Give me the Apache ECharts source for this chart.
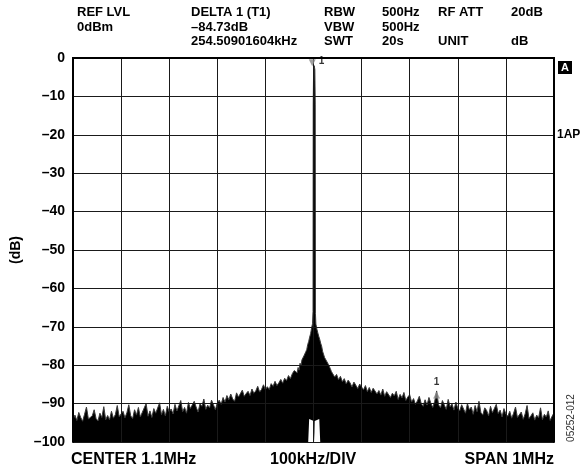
<!DOCTYPE html>
<html>
<head>
<meta charset="utf-8">
<script src="https://cdn.jsdelivr.net/npm/echarts@6/dist/echarts.min.js"></script>
<style>
  html, body { margin: 0; padding: 0; background: #fff; }
  #chart { width: 587px; height: 473px; }
</style>
</head>
<body>
<div id="chart"></div>
<script>
// Spectrum analyser screen: 1.1 MHz carrier, 1 MHz span, max-hold trace in dB.

const spanStartKHz = 600;
const spanStopKHz = 1600;
const divKHz = 100;
const bandStepKHz = 4;

// Trace from 600 kHz to 1060 kHz, one value every 4 kHz
const lowBandStartKHz = 600;
const lowBandDb = [
  -94.2, -93.0, -94.4, -92.3, -93.6, -94.6, -92.8, -90.9, -94.0, -94.3, -93.2, -91.6, -93.9,
  -94.5, -92.5, -93.6, -90.8, -94.2, -93.1, -94.2, -92.0, -93.8, -92.9, -90.5, -93.4, -92.7,
  -92.0, -93.7, -92.4, -90.3, -93.2, -93.9, -91.6, -93.0, -91.0, -93.5, -92.3, -92.7, -90.0,
  -93.3, -91.9, -93.6, -91.3, -92.5, -92.1, -89.8, -92.9, -91.5, -93.2, -90.7, -92.2,
  -91.4, -92.7, -90.2, -91.9, -90.6, -89.2, -92.1, -91.0, -92.5, -89.7, -91.3, -91.8, -89.4,
  -90.9, -92.2, -90.1, -90.7, -88.8, -91.5, -90.4, -91.1, -89.1, -90.3, -91.6, -89.8,
  -89.1, -90.2, -88.4, -89.6, -87.9, -89.0, -87.5, -88.8, -89.4, -87.2, -88.3, -87.8, -86.5,
  -88.1, -87.4, -86.8, -87.9, -86.2, -87.3, -86.7, -85.5, -87.0, -86.3, -85.1, -86.4,
  -85.6, -86.3, -84.8, -85.5, -84.2, -85.3, -84.6, -83.7, -84.7, -83.4, -84.0, -82.7, -83.5,
  -82.2, -81.4
];

// Carrier and its close-in skirt
const carrierFreqKHz = [
  1066, 1068, 1070, 1072, 1074, 1076, 1078, 1080, 1082, 1084, 1086, 1088, 1090, 1092, 1094,
  1096, 1098, 1099, 1099.4, 1100.2, 1101.5, 1102.8, 1103.6, 1104, 1105, 1107, 1109, 1111,
  1113, 1115, 1117, 1119, 1121, 1123, 1125, 1127, 1129, 1131, 1133, 1135, 1137
];
const carrierDb = [
  -82.0, -80.6, -81.3, -79.5, -80.1, -78.6, -79.0, -77.6, -78.0, -76.5, -75.9, -74.6, -73.8,
  -72.7, -71.8, -70.3, -69.2, -66.0, -12.0, -3.0, -2.0, -3.0, -12.0, -66.5, -69.3, -70.6,
  -71.6, -72.5, -73.3, -74.3, -75.1, -76.4, -76.9, -78.0, -77.6, -78.9, -78.5, -79.8, -80.3,
  -80.9, -81.6
];

// Trace from 1140 kHz to 1600 kHz, one value every 4 kHz
const highBandStartKHz = 1140;
const highBandDb = [
  -81.9, -83.1, -82.4, -83.8, -82.9, -84.3, -83.5, -84.9, -83.9, -84.6, -85.7, -84.4, -85.2,
  -86.1, -84.9, -85.7,
  -86.4, -85.3, -86.9, -85.8, -87.1, -86.0, -85.5, -87.5, -86.6, -87.8, -86.2, -88.1, -86.9,
  -86.5, -88.4, -87.3, -88.0, -86.8, -88.9, -87.6, -88.5, -87.1, -89.2, -88.3, -87.7,
  -89.6, -88.7, -90.2, -89.3, -88.1, -90.0, -90.7, -89.0, -90.4, -88.4, -89.9, -91.0, -89.4,
  -86.7, -90.3, -91.1, -89.2, -90.4, -91.5, -88.9, -90.8, -90.1, -91.7, -89.6, -91.2,
  -91.9, -90.3, -91.4, -92.5, -90.0, -91.6, -90.9, -92.8, -90.5, -92.1, -89.4, -92.3, -93.0,
  -91.1, -91.8, -93.2, -90.7, -92.4, -92.9, -90.2, -92.6, -91.7, -93.5, -91.3, -92.7,
  -93.3, -92.0, -93.8, -92.5, -90.9, -93.6, -93.1, -92.2, -94.1, -92.7, -90.5, -93.9, -93.2,
  -92.4, -94.3, -93.0, -93.7, -91.1, -94.2, -92.8, -93.5, -91.9, -94.4, -93.3, -92.4
];

// Lowest excursion of the trace right beside the carrier
const notchFreqKHz = [1089, 1091, 1100.5, 1101.5, 1102.5, 1112, 1114];
const notchDb = [-100, -94, -94.5, -100, -94.5, -94, -100];

const levelMinDb = -100;
const levelMaxDb = 0;
const levelStepDb = 10;

const deltaOffsetKHz = 254.50901604;

const headerColumns = [
  { x: 77,  rows: ['REF LVL', '0dBm', ''] },
  { x: 191, rows: ['DELTA 1 (T1)', '\u201384.73dB', '254.50901604kHz'] },
  { x: 324, rows: ['RBW', 'VBW', 'SWT'] },
  { x: 382, rows: ['500Hz', '500Hz', '20s'] },
  { x: 438, rows: ['RF ATT', '', 'UNIT'] },
  { x: 511, rows: ['20dB', '', 'dB'] }
];
const footerLeft = 'CENTER 1.1MHz';
const footerMid = '100kHz/DIV';
const footerRight = 'SPAN 1MHz';

// ---- assemble trace ----
const trace = [];
lowBandDb.forEach((v, i) => trace.push([lowBandStartKHz + i * bandStepKHz, v]));
carrierDb.forEach((v, i) => trace.push([carrierFreqKHz[i], v]));
highBandDb.forEach((v, i) => trace.push([highBandStartKHz + i * bandStepKHz, v]));
const notch = notchDb.map((v, i) => [notchFreqKHz[i], v]);

// marker 1 on the carrier peak, delta marker 254.5 kHz above it
let peak = trace[0];
trace.forEach(p => { if (p[1] > peak[1]) peak = p; });
const deltaTarget = peak[0] + deltaOffsetKHz;
let delta = trace[0];
trace.forEach(p => { if (Math.abs(p[0] - deltaTarget) < Math.abs(delta[0] - deltaTarget)) delta = p; });

const FONT = '"Liberation Sans", Arial, sans-serif';
const gridLine = { show: true, lineStyle: { color: '#1a1a1a', width: 1 } };
const frameLine = { show: true, lineStyle: { color: '#000', width: 2 } };

const graphics = [];
headerColumns.forEach(col => {
  col.rows.forEach((t, r) => {
    if (!t) return;
    graphics.push({
      type: 'text', left: col.x, top: 6 + r * 14.5, z: 10,
      style: { text: t, fill: '#000', font: 'bold 13px ' + FONT }
    });
  });
});
graphics.push(
  { type: 'text', left: 71, top: 452, z: 10,
    style: { text: footerLeft, fill: '#000', font: 'bold 16px ' + FONT } },
  { type: 'text', left: 270, top: 452, z: 10,
    style: { text: footerMid, fill: '#000', font: 'bold 16px ' + FONT } },
  { type: 'text', right: 33, top: 452, z: 10,
    style: { text: footerRight, fill: '#000', font: 'bold 16px ' + FONT } },
  { type: 'group', left: 558, top: 61, z: 10, children: [
    { type: 'rect', shape: { x: 0, y: 0, width: 14, height: 13 }, style: { fill: '#000' } },
    { type: 'text', x: 7, y: 7, style: { text: 'A', fill: '#fff', font: 'bold 11px ' + FONT,
      textAlign: 'center', textVerticalAlign: 'middle' } }
  ] },
  { type: 'text', left: 557, top: 129, z: 10,
    style: { text: '1AP', fill: '#000', font: 'bold 12px ' + FONT } },
  { type: 'text', x: 571, y: 418, rotation: Math.PI / 2, z: 10,
    style: { text: '05252-012', fill: '#333', font: '10px ' + FONT,
      textAlign: 'center', textVerticalAlign: 'middle' } }
);

const chart = echarts.init(document.getElementById('chart'), null, { renderer: 'canvas' });
chart.setOption({
  animation: false,
  backgroundColor: '#fff',
  grid: { left: 73, right: 33, top: 58, bottom: 31, containLabel: false },
  xAxis: [
    { type: 'value', min: spanStartKHz, max: spanStopKHz, interval: divKHz, z: 5,
      axisLine: frameLine, axisTick: { show: false }, axisLabel: { show: false },
      splitLine: gridLine },
    { type: 'value', position: 'top', min: spanStartKHz, max: spanStopKHz, z: 5,
      axisLine: frameLine, axisTick: { show: false }, axisLabel: { show: false },
      splitLine: { show: false } }
  ],
  yAxis: [
    { type: 'value', min: levelMinDb, max: levelMaxDb, interval: levelStepDb, z: 5,
      name: '(dB)', nameLocation: 'middle', nameGap: 45, nameRotate: 90,
      nameTextStyle: { color: '#000', fontWeight: 'bold', fontSize: 14, fontFamily: FONT },
      axisLine: frameLine, axisTick: { show: false }, splitLine: gridLine,
      axisLabel: { color: '#000', fontWeight: 'bold', fontSize: 14, fontFamily: FONT, margin: 8,
        formatter: v => (v === 0 ? '0' : '\u2013' + Math.abs(v)) } },
    { type: 'value', position: 'right', min: levelMinDb, max: levelMaxDb, z: 5,
      axisLine: frameLine, axisTick: { show: false }, axisLabel: { show: false },
      splitLine: { show: false } }
  ],
  series: [
    { type: 'line', name: 'trace', data: trace, symbol: 'none', z: 2,
      lineStyle: { color: '#3a3a3a', width: 1 },
      areaStyle: { color: '#000', opacity: 1, origin: 'start' } },
    { type: 'line', name: 'trace-low', data: notch, symbol: 'none', z: 3,
      lineStyle: { width: 0, opacity: 0 },
      areaStyle: { color: '#fff', opacity: 1, origin: 'start' } },
    { type: 'scatter', name: 'markers', z: 8,
      data: [
        { value: peak, symbol: 'triangle', symbolRotate: 180, symbolSize: 7, symbolOffset: [-2, -3],
          label: { show: true, formatter: '1', position: 'right', distance: 3, offset: [0, -1] } },
        { value: delta, symbol: 'triangle', symbolSize: 7, symbolOffset: [0, 4],
          label: { show: true, formatter: '1', position: 'top', distance: 4 } }
      ],
      itemStyle: { color: '#8a8a8a' },
      label: { color: '#000', fontWeight: 'bold', fontSize: 10, fontFamily: FONT } }
  ],
  graphic: graphics
});
</script>
</body>
</html>
